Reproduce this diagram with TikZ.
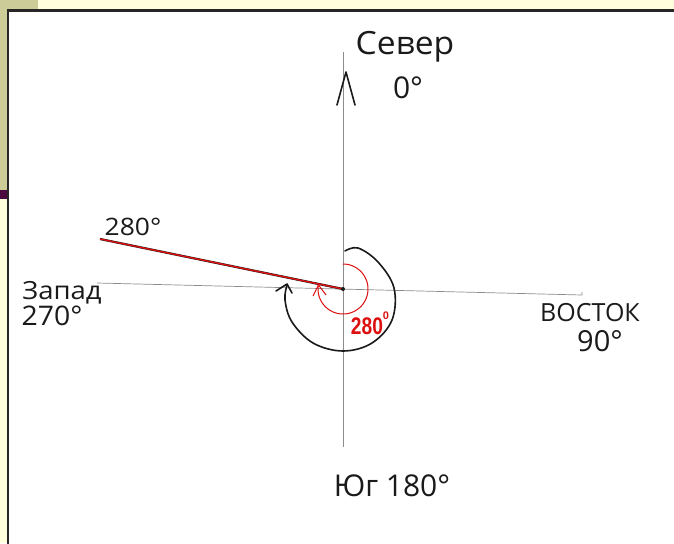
\documentclass[tikz,border=0pt]{standalone}
\usepackage{fontspec}
\setmainfont{Open Sans}
\newfontfamily\redfont{Liberation Sans}
\usetikzlibrary{arrows.meta}
\definecolor{bgyellow}{HTML}{FFFFDE}
\definecolor{olive}{HTML}{CCCC99}
\definecolor{plum}{HTML}{4A0A40}
\definecolor{pen}{HTML}{1A1A1A}
\definecolor{axisgray}{HTML}{8C8C8C}
\definecolor{mred}{HTML}{DD1010}
\tikzset{
  hand/.style={text=pen, inner sep=0pt, font=\fontsize{20}{22}\selectfont},
  axisline/.style={draw=axisgray, line width=0.7pt},
  penline/.style={draw=pen, line width=1.6pt, line cap=round, line join=round},
  redline/.style={draw=mred, line width=1pt},
}
\begin{document}
\begin{tikzpicture}[x=1pt,y=-1pt]
\useasboundingbox (0,0) rectangle (674,543);
% slide background
\fill[bgyellow] (0,0) rectangle (674,543);
\fill[olive] (0,0) rectangle (38,190);
\fill[plum] (0,190) rectangle (8,199);
\filldraw[fill=white, draw=black!85, line width=2.6pt] (8,10.5) rectangle (690,560);

% named points
\coordinate (O) at (343,289);
\coordinate (Ntop) at (343,52);
\coordinate (Nbot) at (343,447);
\coordinate (Wend) at (97,283);
\coordinate (Eend) at (582,295);
\coordinate (Etick) at (582,292);
\coordinate (R) at (100,239);

% axes
\draw[axisline] (Ntop) -- (Nbot);
\draw[axisline] (Wend) -- (Eend) -- (Etick);

% north arrow (open V)
\draw[penline] (337,105) -- (346,72) -- (355,105);

% 280 degree ray
\draw[draw=pen, line width=2.2pt] (O) -- (R);
\draw[draw=mred, line width=1.4pt] (O) -- (R);
\fill[pen] (O) circle (2);

% red arc with arrow
\draw[redline] plot[domain=0:279, samples=80, smooth] ({343+25*sin(\x)},{289-25*cos(\x)});
\draw[redline] (313,296) -- (318.5,285) -- (326,295);

% black hand-drawn arc
\draw[penline] plot[smooth, tension=0.6] coordinates {(345,251) (358,248) (378,262) (394,288) (392,320) (372,343) (343,351) (313,343) (292,322) (285,300) (287,285)};
\draw[penline] (276,291) -- (287,284) -- (292,293);

% labels
\node[hand, font=\fontsize{32}{34}\selectfont, xscale=1.05] (sever) at (405,47) {Север};
\node[hand, font=\fontsize{30}{32}\selectfont] (zero) at (408,88) {0°};
\node[hand, font=\fontsize{24}{26}\selectfont, xscale=1.1] (r280) at (133,227) {280°};
\node[hand, font=\fontsize{25}{27}\selectfont, xscale=1.1] (zapad) at (62,293) {Запад};
\node[hand, font=\fontsize{27}{29}\selectfont, xscale=1.05] (w270) at (52,316) {270°};
\node[hand, font=\fontsize{25}{27}\selectfont] (vostok) at (590,313) {ВОСТОК};
\node[hand, font=\fontsize{29}{31}\selectfont] (e90) at (600,341) {90°};
\node[hand, font=\fontsize{30}{32}\selectfont] (yug) at (392,486) {Юг 180°};
\node[inner sep=0pt, text=mred, font=\redfont\bfseries\fontsize{24}{26}\selectfont, xscale=0.8] (red280) at (367,326) {280};
\node[inner sep=0pt, text=mred, font=\redfont\bfseries\fontsize{11}{12}\selectfont] (reddeg) at (386,316) {0};
\end{tikzpicture}
\end{document}
